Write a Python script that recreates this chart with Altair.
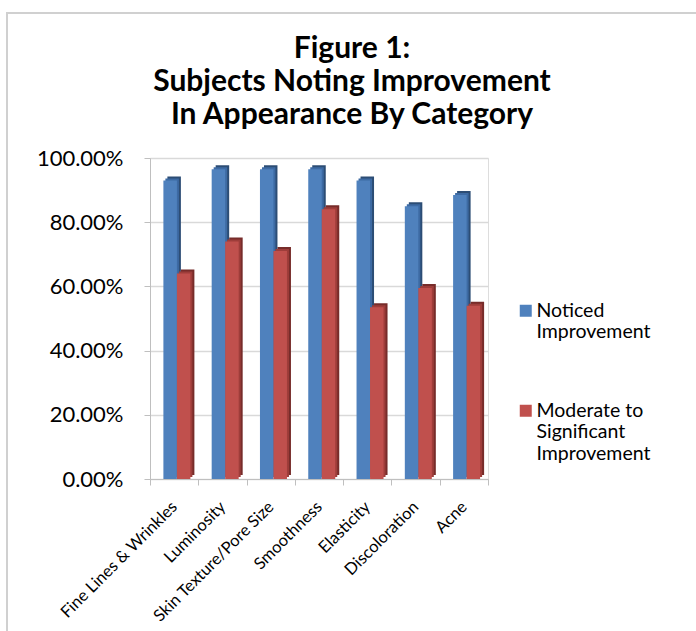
import altair as alt
import pandas as pd

categories = ["Fine Lines & Wrinkles", "Luminosity", "Skin Texture/Pore Size",
              "Smoothness", "Elasticity", "Discoloration", "Acne"]
series = ["Noticed Improvement", "Moderate to Significant Improvement"]
noticed = [0.93, 0.965, 0.965, 0.965, 0.93, 0.85, 0.885]
moderate = [0.64, 0.74, 0.71, 0.84, 0.535, 0.595, 0.54]
colors = ["#4F81BD", "#C0504D"]
side_colors = ["#2C4D75", "#772C2A"]
top_colors = ["#3D6AA3", "#9E3D3A"]
title_lines = ["Figure 1:", "Subjects Noting Improvement", "In Appearance By Category"]
y_ticks = [0, 0.2, 0.4, 0.6, 0.8, 1.0]

rows = []
for c, a, b in zip(categories, noticed, moderate):
    rows.append({"category": c, "series": series[0], "value": a})
    rows.append({"category": c, "series": series[1], "value": b})
df = pd.DataFrame(rows)

FONT = "Lato"

x_enc = alt.X("category:N", sort=categories, title=None,
              scale=alt.Scale(paddingInner=0, paddingOuter=0),
              axis=alt.Axis(labelAngle=315, labelAlign="right", labelBaseline="middle",
                            labelFont=FONT, labelFontSize=16.5, labelColor="#000000",
                            labelPadding=19, tickBand="extent", tickSize=6,
                            tickColor="#BFBFBF", domainColor="#BFBFBF", grid=False,
                            labelOverlap=False))
y_enc = alt.Y("value:Q", title=None,
              scale=alt.Scale(domain=[0, 1], nice=False),
              axis=alt.Axis(format=".2%", values=y_ticks, labelFont=FONT, labelFontSize=22,
                            labelColor="#000000", labelPadding=21, tickSize=6,
                            tickColor="#BFBFBF", domainColor="#BFBFBF",
                            gridColor="#D9D9D9", gridWidth=1.5))

base = alt.Chart(df)

layers = []
offsets = [-4, 9.5]
for i, s in enumerate(series):
    d = base.transform_filter(alt.datum.series == s)
    layers.append(d.mark_bar(width=13.5, xOffset=offsets[i] + 4, yOffset=-4,
                             color=side_colors[i]).encode(x=x_enc, y=y_enc))
    layers.append(d.mark_bar(width=13.5, xOffset=offsets[i] + 2, yOffset=-2,
                             color=top_colors[i]).encode(x=x_enc, y=y_enc))
    layers.append(d.mark_bar(width=13.5, xOffset=offsets[i]).encode(
        x=x_enc, y=y_enc,
        color=alt.Color("series:N", scale=alt.Scale(domain=series, range=colors),
                        legend=alt.Legend(
                            title=None, orient="none", legendX=366, legendY=143,
                            symbolType="square", symbolSize=144, symbolStrokeWidth=0,
                            labelFont=FONT, labelFontSize=19.5, labelColor="#000000",
                            labelLimit=300, rowPadding=58, labelOffset=1,
                            labelExpr="datum.label == 'Noticed Improvement' ? ['Noticed', 'Improvement'] : ['Moderate to', 'Significant', 'Improvement']",
                        ))))

frame = alt.Chart(pd.DataFrame({"a": [0]})).mark_rect(
    fill=None, stroke="#D0D0D0", strokeWidth=2).encode(
    x=alt.value(-143), x2=alt.value(700), y=alt.value(-145), y2=alt.value(600))

chart = alt.layer(frame, *layers).properties(
    width=338, height=321,
    autosize=alt.AutoSizeParams(type="none"),
    padding={"left": 150, "top": 158, "right": 208, "bottom": 152},
    title=alt.TitleParams(text=title_lines, font=FONT, fontSize=30, fontWeight="bold",
                          color="#000000", anchor="middle", frame="group", dx=33, offset=-118,
                          lineHeight=33),
).configure_view(stroke=None).configure(background="#FFFFFF")

chart.save("out.html", embed_options={"renderer": "svg", "actions": False})
